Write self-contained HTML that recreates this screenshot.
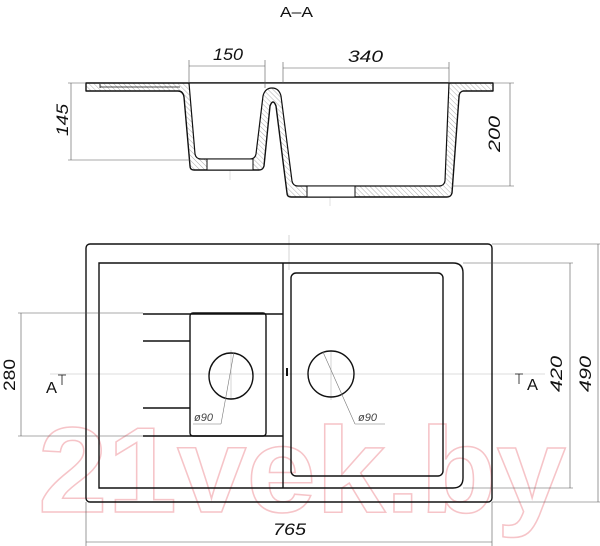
<!DOCTYPE html>
<html><head><meta charset="utf-8"><style>
html,body{margin:0;padding:0;background:#fff;}
svg{display:block;}
text{font-family:"Liberation Sans",sans-serif;fill:#111;}
</style></head><body>
<svg width="600" height="546" viewBox="0 0 600 546" xmlns="http://www.w3.org/2000/svg">
<defs>
<pattern id="h" patternUnits="userSpaceOnUse" width="3.5" height="3.5" patternTransform="rotate(-45)">
<rect width="3.5" height="3.5" fill="#fff"/>
<line x1="0" y1="0" x2="0" y2="3.5" stroke="#999" stroke-width="0.8"/>
</pattern>
</defs>

<!-- watermark -->
<text x="38" y="512" font-size="122" font-weight="bold" fill="none" stroke="#f6c4c8" stroke-width="1.5" style="fill:none" textLength="528" lengthAdjust="spacingAndGlyphs">21vek.by</text>

<!-- title -->
<text x="280" y="17" font-size="15" textLength="33" lengthAdjust="spacingAndGlyphs">A–A</text>

<!-- section: centerlines -->
<line x1="230" y1="150" x2="230" y2="180" stroke="#ccc" stroke-width="0.6"/>
<line x1="330" y1="170" x2="330" y2="206" stroke="#ccc" stroke-width="0.6"/>

<!-- section material -->
<path d="M86,83 L493,83 L493,91 L463,91 Q459,92 459,97 L452,193 Q451,197 447,197 L291,197 Q287,197 287,193 L276,106 Q273,98 270,106 L264,166 Q263,170 259,170 L194,170 Q190,170 190,166 L184,97 Q183,91 178,91 L86,91 Z" fill="url(#h)" stroke="#111" stroke-width="1.4" stroke-linejoin="round"/>
<path d="M189,83 L195,154 Q196,159 201,159 L250,159 Q255,159 256,154 L263,96 Q265,88 272,88 Q279,88 281,96 L292,181 Q293,186 298,186 L439,186 Q444,186 445,181 L449,83 Z" fill="#fff" stroke="#111" stroke-width="1.2" stroke-linejoin="round"/>
<line x1="100" y1="87" x2="180" y2="87" stroke="#111" stroke-width="0.8"/>
<line x1="100" y1="84" x2="100" y2="88" stroke="#111" stroke-width="0.8"/>
<rect x="207" y="159" width="46" height="11" fill="#fff" stroke="#111" stroke-width="1"/>
<rect x="307" y="186" width="48" height="11" fill="#fff" stroke="#111" stroke-width="1"/>

<!-- section dims -->
<g stroke="#555" stroke-width="0.6" fill="none">
<line x1="189" y1="66" x2="265" y2="66"/>
<line x1="189" y1="60" x2="189" y2="83"/>
<line x1="265" y1="60" x2="265" y2="88"/>
<line x1="283" y1="68" x2="449" y2="68"/>
<line x1="283" y1="62" x2="283" y2="83"/>
<line x1="449" y1="62" x2="449" y2="83"/>
<line x1="71" y1="83" x2="71" y2="160"/>
<line x1="68" y1="83" x2="86" y2="83"/>
<line x1="68" y1="160" x2="190" y2="160"/>
<line x1="510" y1="83" x2="510" y2="186"/>
<line x1="493" y1="83" x2="514" y2="83"/>
<line x1="452" y1="186" x2="514" y2="186"/>
</g>
<text x="213" y="60" font-size="17" font-style="italic" textLength="30" lengthAdjust="spacingAndGlyphs">150</text>
<text x="348" y="62" font-size="17" font-style="italic" textLength="35" lengthAdjust="spacingAndGlyphs">340</text>
<text transform="translate(68,136) rotate(-90)" font-size="17" font-style="italic" textLength="32" lengthAdjust="spacingAndGlyphs">145</text>
<text transform="translate(500,152) rotate(-90)" font-size="17" font-style="italic" textLength="36" lengthAdjust="spacingAndGlyphs">200</text>

<!-- plan: center lines -->
<g stroke="#bbb" stroke-width="0.6">
<line x1="50" y1="374" x2="545" y2="374"/>
<line x1="289" y1="235" x2="289" y2="270"/>
<line x1="231" y1="350" x2="231" y2="400"/>
<line x1="331" y1="350" x2="331" y2="400"/>
</g>

<!-- plan body -->
<g fill="none" stroke="#111" stroke-width="1.4">
<rect x="86" y="244" width="406" height="258" rx="4"/>
<path d="M99,263 L453,263 Q463,263 463,273 L463,478 Q463,488 453,488 L99,488 Z"/>
<line x1="283" y1="263" x2="283" y2="488"/>
<rect x="291" y="273" width="152" height="203" rx="5"/>
<rect x="190" y="313" width="76" height="123" rx="3"/>
<line x1="143" y1="314" x2="283" y2="314"/>
<line x1="143" y1="341" x2="190" y2="341"/>
<line x1="143" y1="408" x2="190" y2="408"/>
<line x1="143" y1="436" x2="283" y2="436"/>
<ellipse cx="231" cy="376" rx="22" ry="23"/>
<ellipse cx="331" cy="374" rx="23" ry="23"/>
<line x1="287" y1="368" x2="287" y2="376" stroke-width="2"/>
</g>
<g stroke="#777" stroke-width="0.6" fill="none">
<line x1="234" y1="352" x2="221" y2="424"/>
<line x1="221" y1="424" x2="193" y2="424"/>
<line x1="323" y1="352" x2="355" y2="424"/>
<line x1="355" y1="424" x2="385" y2="424"/>
</g>
<text x="194" y="421" font-size="11" font-style="italic" fill="#444" style="fill:#444">ø90</text>
<text x="358" y="421" font-size="11" font-style="italic" fill="#444" style="fill:#444">ø90</text>

<!-- A markers -->
<text x="46" y="393" font-size="16" textLength="11" lengthAdjust="spacingAndGlyphs">A</text>
<path d="M58,375 H66 M62,375 V385" stroke="#111" stroke-width="0.8" fill="none"/>
<text x="527" y="390" font-size="16" textLength="11" lengthAdjust="spacingAndGlyphs">A</text>
<path d="M515,374 H523 M519,374 V384" stroke="#111" stroke-width="0.8" fill="none"/>

<!-- plan dims -->
<g stroke="#555" stroke-width="0.6" fill="none">
<line x1="21" y1="313" x2="21" y2="436"/>
<line x1="18" y1="313" x2="143" y2="313"/>
<line x1="18" y1="436" x2="143" y2="436"/>
<line x1="570" y1="263" x2="570" y2="488"/>
<line x1="463" y1="263" x2="573" y2="263"/>
<line x1="463" y1="488" x2="573" y2="488"/>
<line x1="598" y1="244" x2="598" y2="502"/>
<line x1="492" y1="244" x2="600" y2="244"/>
<line x1="492" y1="502" x2="600" y2="502"/>
<line x1="86" y1="542" x2="492" y2="542"/>
<line x1="86" y1="502" x2="86" y2="546"/>
<line x1="492" y1="502" x2="492" y2="546"/>
</g>
<text transform="translate(15,391) rotate(-90)" font-size="17" textLength="32" lengthAdjust="spacingAndGlyphs">280</text>
<text transform="translate(562,392) rotate(-90)" font-size="17" font-style="italic" textLength="36" lengthAdjust="spacingAndGlyphs">420</text>
<text transform="translate(591,392) rotate(-90)" font-size="17" font-style="italic" textLength="36" lengthAdjust="spacingAndGlyphs">490</text>
<text x="273" y="535" font-size="17" font-style="italic" textLength="33" lengthAdjust="spacingAndGlyphs">765</text>
</svg>
</body></html>
